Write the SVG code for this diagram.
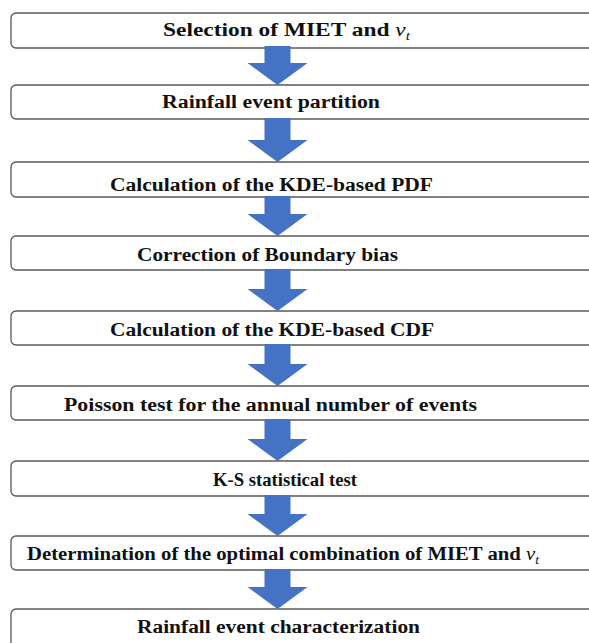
<svg xmlns="http://www.w3.org/2000/svg" width="589" height="643" viewBox="0 0 589 643">
<style>
.box{fill:#ffffff;stroke:#595959;stroke-width:1.3}
.lbl{font-family:"Liberation Serif","Times New Roman",serif;font-weight:bold;font-size:18.5px;fill:#111111}
.it{font-style:italic;font-weight:normal}
.arr{fill:#4472C4}
</style>
<rect width="589" height="643" fill="#ffffff"/>
<g id="n1"><rect class="box" x="11" y="13" width="600" height="35" rx="5"/><text class="lbl" x="163" y="36" textLength="247" lengthAdjust="spacingAndGlyphs">Selection of MIET and <tspan class="it">v</tspan><tspan class="it" font-size="12" dy="4">t</tspan></text></g>
<g id="n2"><rect class="box" x="11" y="85" width="600" height="34" rx="5"/><text class="lbl" x="162" y="108" textLength="218" lengthAdjust="spacingAndGlyphs">Rainfall event partition</text></g>
<g id="n3"><rect class="box" x="11" y="162" width="600" height="35" rx="5"/><text class="lbl" x="110" y="191" textLength="323" lengthAdjust="spacingAndGlyphs">Calculation of the KDE-based PDF</text></g>
<g id="n4"><rect class="box" x="11" y="236" width="600" height="34" rx="5"/><text class="lbl" x="137" y="261" textLength="261" lengthAdjust="spacingAndGlyphs">Correction of Boundary bias</text></g>
<g id="n5"><rect class="box" x="11" y="311" width="600" height="34" rx="5"/><text class="lbl" x="110" y="336" textLength="324" lengthAdjust="spacingAndGlyphs">Calculation of the KDE-based CDF</text></g>
<g id="n6"><rect class="box" x="11" y="386" width="600" height="34" rx="5"/><text class="lbl" x="64" y="411" textLength="413" lengthAdjust="spacingAndGlyphs">Poisson test for the annual number of events</text></g>
<g id="n7"><rect class="box" x="11" y="461" width="600" height="35" rx="5"/><text class="lbl" x="213" y="486" textLength="144" lengthAdjust="spacingAndGlyphs">K-S statistical test</text></g>
<g id="n8"><rect class="box" x="11" y="536" width="600" height="34" rx="5"/><text class="lbl" x="27" y="560" textLength="512" lengthAdjust="spacingAndGlyphs">Determination of the optimal combination of MIET and <tspan class="it">v</tspan><tspan class="it" font-size="12" dy="4">t</tspan></text></g>
<g id="n9"><rect class="box" x="11" y="609" width="600" height="50" rx="5"/><text class="lbl" x="137" y="633" textLength="283" lengthAdjust="spacingAndGlyphs">Rainfall event characterization</text></g>
<g id="connectors">
<polygon class="arr" points="264.5,46 290.5,46 290.5,63 307.5,63 277.5,85 247.5,63 264.5,63"/>
<polygon class="arr" points="264.5,118 290.5,118 290.5,140 307.5,140 277.5,162 247.5,140 264.5,140"/>
<polygon class="arr" points="264.5,196 290.5,196 290.5,214 307.5,214 277.5,236 247.5,214 264.5,214"/>
<polygon class="arr" points="264.5,269 290.5,269 290.5,289 307.5,289 277.5,311 247.5,289 264.5,289"/>
<polygon class="arr" points="264.5,344 290.5,344 290.5,364 307.5,364 277.5,386 247.5,364 264.5,364"/>
<polygon class="arr" points="264.5,419 290.5,419 290.5,439 307.5,439 277.5,461 247.5,439 264.5,439"/>
<polygon class="arr" points="264.5,495 290.5,495 290.5,514 307.5,514 277.5,536 247.5,514 264.5,514"/>
<polygon class="arr" points="264.5,569 290.5,569 290.5,587 307.5,587 277.5,609 247.5,587 264.5,587"/>
</g>
</svg>
